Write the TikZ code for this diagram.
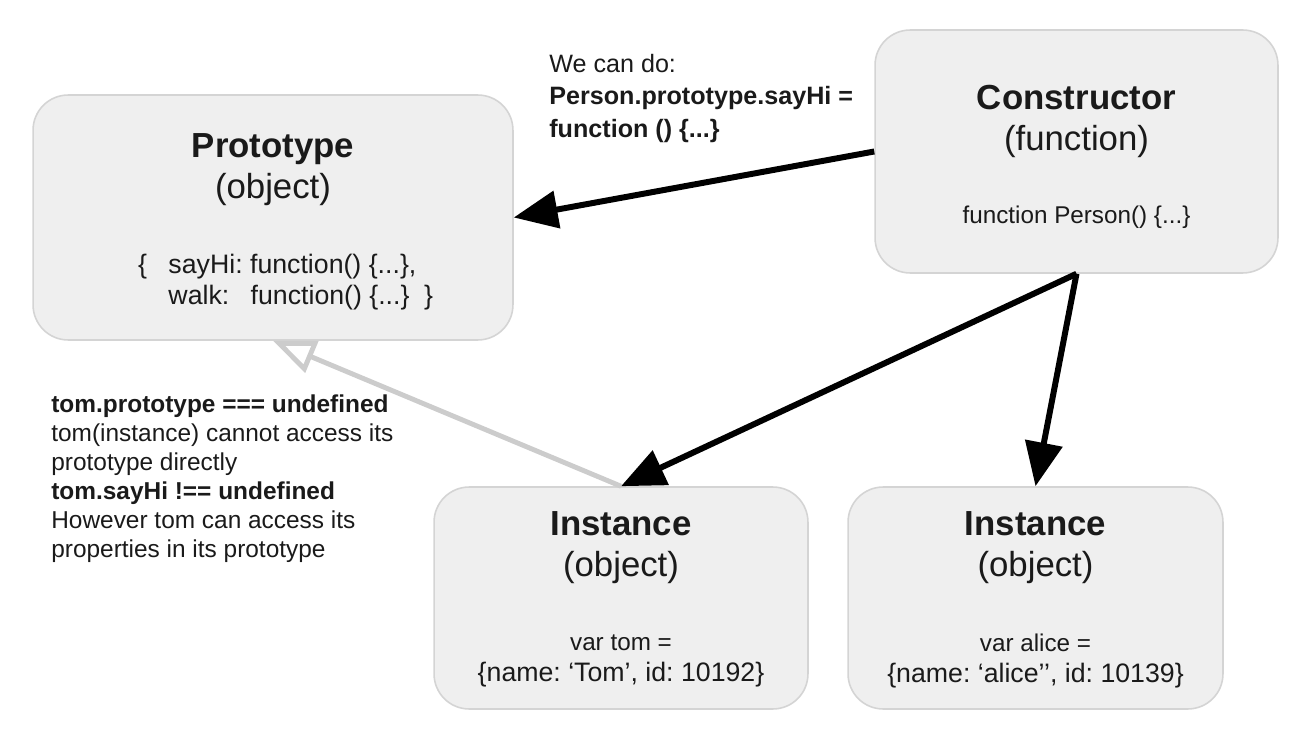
\documentclass[tikz,border=0pt]{standalone}
\usepackage{fontspec}
\setmainfont{Liberation Sans}
\usetikzlibrary{positioning}
\usetikzlibrary{arrows.meta}
\frenchspacing
\definecolor{boxfill}{HTML}{EFEFEF}
\definecolor{boxline}{HTML}{D4D4D4}
\definecolor{linkgray}{HTML}{CCCCCC}
\definecolor{ink}{HTML}{1A1A1A}
\newcommand{\headfont}{\fontsize{19.8}{23.6}\selectfont}
\newcommand{\bodyfont}{\fontsize{13.8}{18.1}\selectfont}
\newcommand{\codefont}{\fontsize{15.2}{18.1}\selectfont}
\newcommand{\notefont}{\fontsize{13.9}{16.6}\selectfont}
\newcommand{\askfont}{\fontsize{14.3}{18.4}\selectfont}
\tikzset{
  objbox/.style={draw=boxline,fill=boxfill,line width=0.9pt,rounded corners=20pt,inner sep=0pt},
  head/.style={align=center,font=\headfont,text=ink},
  body/.style={align=center,font=\codefont,text=ink},
  note/.style={align=left,anchor=north west,inner sep=0pt,text=ink},
  link/.style={line width=3.4pt,-{Triangle[length=25pt,width=21pt]}},
  protolink/.style={draw=linkgray,line width=2.8pt,-{Triangle[open,length=24pt,width=19pt]}}
}
\begin{document}
\begin{tikzpicture}[x=0.02cm,y=-0.02cm]
 \useasboundingbox (0,0) rectangle (1310,746);
 \node[objbox,minimum width=9.6cm,minimum height=4.9cm] (proto) at (273,217.5) {};
 \node[objbox,minimum width=8.06cm,minimum height=4.86cm] (ctor) at (1076.5,151.5) {};
 \node[objbox,minimum width=7.48cm,minimum height=4.44cm] (tom) at (621,598) {};
 \node[objbox,minimum width=7.5cm,minimum height=4.44cm] (alice) at (1035.5,598) {};

 \node[head] (protoname) at (273,169.5) {\textbf{Prototype}\\(object)};
 \node[body,align=left,anchor=west] (protobody) at (132,282)
  {\{\hspace{0.8em}sayHi: function() \{...\},\\
   \hphantom{\{\hspace{0.8em}}walk:\hspace{0.8em}function() \{...\}\hspace{0.55em}\}};
 \node[head] (ctorname) at (1076.5,121.5) {\textbf{Constructor}\\(function)};
 \node[body,font=\bodyfont] (ctorbody) at (1076.5,217) {function Person() \{...\}};
 \node[head] (tomname) at (621,547.5) {\textbf{Instance}\\(object)};
 \node[body] (tombody) at (621,661) {{\bodyfont var tom =}\\\{name: ‘Tom’, id: 10192\}};
 \node[head] (alicename) at (1035.5,547.5) {\textbf{Instance}\\(object)};
 \node[body] (alicebody) at (1035.5,661) {{\bodyfont var alice =}\\\{name: ‘alice’’, id: 10139\}};

 \node[note,font=\askfont] (sayhinote) at (549,54)
  {We can do:\\\textbf{Person.prototype.sayHi =}\\\textbf{function () \{...\}}};
 \node[note,font=\notefont] (tomnote) at (51,394)
  {\textbf{tom.prototype === undefined}\\tom(instance) cannot access its\\prototype directly\\
   \textbf{tom.sayHi !== undefined}\\However tom can access its\\properties in its prototype};

 \draw[protolink] (tom.north) -- (proto.south);
 \draw[link] (ctor.west) -- (proto.east);
 \draw[link] (ctor.south) -- (tom.north);
 \draw[link] (ctor.south) -- (alice.north);
\end{tikzpicture}
\end{document}
